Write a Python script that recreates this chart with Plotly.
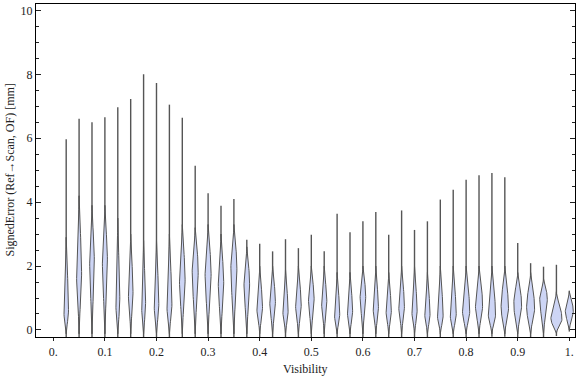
import plotly.graph_objects as go

# Violin positions (Visibility)
positions = [round(0.025 * (i + 1), 3) for i in range(40)]

# Tail extents (SignedError, mm)
err_max = [5.97, 6.61, 6.50, 6.66, 6.97, 7.23, 8.00, 7.73, 7.05, 6.64,
           5.14, 4.28, 3.89, 4.10, 2.82, 2.70, 2.46, 2.84, 2.56, 2.98,
           2.46, 3.64, 3.06, 3.40, 3.69, 2.98, 3.74, 3.13, 3.40, 4.08,
           4.39, 4.70, 4.84, 4.91, 4.78, 2.72, 2.09, 1.98, 2.04, 1.23]
err_min = [-0.63, -1.22, -0.82, -0.82, -0.94, -0.76, -0.91, -0.70, -0.86, -0.65,
           -0.52, -0.62, -0.58, -0.60, -0.50, -0.48, -0.42, -0.52, -0.44, -0.47,
           -0.44, -0.54, -0.52, -0.50, -0.47, -0.54, -0.47, -0.42, -0.52, -0.57,
           -0.42, -0.78, -0.37, -0.21, -0.21, -0.26, -0.24, -0.24, -0.19, -0.05]

# Body (density) description: mode, body top, body bottom, relative width
body_mode = [0.6, 1.8, 2.2, 2.2, 0.9, 1.2, 0.8, 0.8, 0.8, 1.6,
             1.9, 1.8, 1.5, 2.0, 1.5, 0.7, 0.9, 0.6, 0.8, 1.0,
             0.9, 0.5, 0.6, 1.1, 0.7, 0.6, 0.75, 0.6, 0.5, 0.45,
             0.5, 0.6, 0.8, 0.5, 0.7, 0.8, 0.7, 1.0, 0.35, 0.6]
body_top = [2.9, 4.2, 3.9, 3.9, 3.5, 3.0, 2.8, 2.8, 3.0, 3.3,
            3.2, 3.3, 3.0, 3.3, 2.6, 2.0, 2.0, 1.9, 2.0, 2.0,
            2.0, 1.8, 1.8, 2.0, 2.0, 1.8, 2.0, 2.0, 1.8, 2.0,
            2.0, 2.0, 2.0, 2.0, 2.0, 1.8, 1.8, 1.6, 1.2, 1.2]
body_bottom = [-0.12] * 38 + [-0.1, 0.0]
body_width = [2.3, 2.5, 2.3, 2.5, 2.0, 2.3, 2.0, 2.3, 2.5, 2.8,
              3.0, 3.0, 2.7, 3.0, 2.8, 2.8, 2.8, 2.6, 2.8, 2.8,
              2.6, 2.6, 2.6, 2.8, 2.6, 2.6, 2.8, 2.6, 2.6, 2.8,
              3.0, 3.6, 3.6, 3.6, 3.7, 3.9, 4.0, 3.8, 5.5, 4.0]

x_tick_vals = [0, 0.1, 0.2, 0.3, 0.4, 0.5, 0.6, 0.7, 0.8, 0.9, 1.0]
x_tick_text = ["0.", "0.1", "0.2", "0.3", "0.4", "0.5", "0.6", "0.7", "0.8", "0.9", "1."]
y_tick_vals = [0, 2, 4, 6, 8, 10]

X_RANGE = [-0.0335, 1.011]
PLOT_W = 539
unit_per_px = (X_RANGE[1] - X_RANGE[0]) / PLOT_W

fig = go.Figure()

# tails
tx, ty = [], []
for p, lo, hi in zip(positions, err_min, err_max):
    tx += [p, p, None]
    ty += [lo, hi, None]
fig.add_trace(go.Scatter(x=tx, y=ty, mode="lines",
                         line=dict(color="rgba(55,55,55,0.85)", width=1.4),
                         hoverinfo="skip", showlegend=False))

# bodies
bx, by = [], []
N = 40
for p, m, top, bot, w in zip(positions, body_mode, body_top, body_bottom, body_width):
    ys = [bot + (top - bot) * k / N for k in range(N + 1)]
    hs = []
    for y in ys:
        if y <= m:
            t = (y - m) / (m - bot)
        else:
            t = (y - m) / (top - m)
        t = max(-1.0, min(1.0, t))
        hs.append(w * (1 - t * t) ** 2 * unit_per_px)
    right = [(p + h, y) for h, y in zip(hs, ys)]
    left = [(p - h, y) for h, y in zip(hs, ys)][::-1]
    pts = right + left
    bx += [q[0] for q in pts] + [pts[0][0], None]
    by += [q[1] for q in pts] + [pts[0][1], None]
fig.add_trace(go.Scatter(x=bx, y=by, mode="lines", fill="toself",
                         fillcolor="#cdd5f5",
                         line=dict(color="#555555", width=1),
                         hoverinfo="skip", showlegend=False))

font = dict(family="Liberation Serif, Times New Roman, serif", size=12, color="#222222")

fig.update_layout(
    width=576, height=377,
    margin=dict(l=36, r=1, t=4, b=40),
    paper_bgcolor="white", plot_bgcolor="white",
    font=font,
    xaxis=dict(range=X_RANGE, tickvals=x_tick_vals, ticktext=x_tick_text,
               ticks="outside", ticklen=3, tickcolor="#222", showgrid=False,
               zeroline=False, showline=True, linecolor="black", linewidth=1.2,
               mirror=True, tickfont=font, automargin=False),
    yaxis=dict(range=[-0.22, 10.2], tickvals=y_tick_vals,
               ticks="inside", ticklen=5, tickcolor="#222", showgrid=False,
               zeroline=False, showline=True, linecolor="black", linewidth=1.2,
               mirror="ticks", tickfont=font, automargin=False,
               minor=dict(dtick=0.5, tick0=0, ticks="inside", ticklen=3,
                          tickcolor="#222", showgrid=False)),
    annotations=[
        dict(text="Visibility", xref="paper", yref="paper", x=0.5, y=0,
             xanchor="center", yanchor="middle", yshift=-32, showarrow=False,
             font=font),
        dict(text="SignedError (Ref\u2192Scan, OF) [mm]", xref="paper", yref="paper",
             x=0, y=0.5, xanchor="center", yanchor="middle", xshift=-27,
             textangle=-90, showarrow=False, font=font),
    ],
)

fig.write_html("out.html", config={"displayModeBar": False},
               post_script="document.body.style.margin='0';document.body.style.overflow='hidden';")
